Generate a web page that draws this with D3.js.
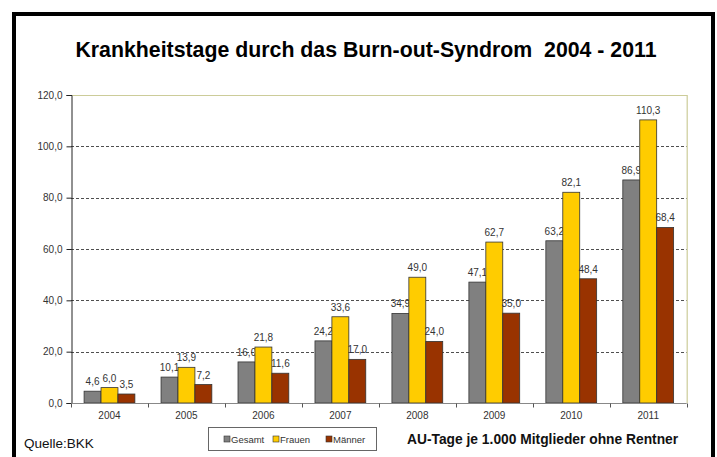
<!DOCTYPE html>
<html>
<head>
<meta charset="utf-8">
<script src="https://cdn.jsdelivr.net/npm/d3@7"></script>
<style>
  body { margin: 0; background: #fff; }
  svg { display: block; font-family: Arial, "Liberation Sans", sans-serif; }
</style>
</head>
<body>
<div id="chartDiv"></div>
<script>
var years = ["2004", "2005", "2006", "2007", "2008", "2009", "2010", "2011"]
var gesamt = [4.6, 10.1, 16.0, 24.2, 34.9, 47.1, 63.2, 86.9]
var frauen = [6.0, 13.9, 21.8, 33.6, 49.0, 62.7, 82.1, 110.3]
var maenner = [3.5, 7.2, 11.6, 17.0, 24.0, 35.0, 48.4, 68.4]
var seriesNames = ["Gesamt", "Frauen", "Männer"]
var yTicks = [0, 20, 40, 60, 80, 100, 120]

var seriesColors = ["#808080", "#ffcc00", "#993300"]

var width = 717, height = 457
var margin = {top: 95, right: 30, bottom: 54, left: 71}

var svg = d3.select("#chartDiv").append("svg")
    .attr("width", width)
    .attr("height", height)

// outer frame (bottom edge runs off the picture)
svg.append("rect")
    .attr("x", 14).attr("y", 14)
    .attr("width", 699).attr("height", 460)
    .attr("fill", "none")
    .attr("stroke", "#000")
    .attr("stroke-width", 4)

svg.append("text")
    .attr("x", 366).attr("y", 57)
    .attr("text-anchor", "middle")
    .style("font-size", "21.3px")
    .style("font-weight", "bold")
    .style("white-space", "pre")
    .text("Krankheitstage durch das Burn-out-Syndrom  2004 - 2011")

var x0 = d3.scaleBand()
    .domain(years)
    .range([margin.left, width - margin.right - 0.3])
    .paddingInner(0.34)
    .paddingOuter(0.17)

var x1 = d3.scaleBand()
    .domain(d3.range(seriesNames.length))
    .range([0, x0.bandwidth()])

var y = d3.scaleLinear()
    .domain([0, 120])
    .range([height - margin.bottom, margin.top])

var plotLeft = margin.left, plotRight = width - margin.right - 0.3

// gridlines
svg.append("g").selectAll("line")
    .data(yTicks.filter(function(d) { return d > 0 && d < 120 }))
    .enter().append("line")
    .attr("x1", plotLeft).attr("x2", plotRight)
    .attr("y1", function(d) { return Math.round(y(d)) + 0.5 })
    .attr("y2", function(d) { return Math.round(y(d)) + 0.5 })
    .attr("stroke", "#222")
    .attr("stroke-width", 0.8)
    .attr("stroke-dasharray", "3,2")

// plot area top/right border
svg.append("path")
    .attr("d", "M" + plotLeft + "," + (Math.round(y(120)) + 0.5) + "H" + (plotRight + 0.5) + "V" + y(0))
    .attr("fill", "none")
    .attr("stroke", "#cccc99")
    .attr("stroke-width", 1.2)

var allSeries = [gesamt, frauen, maenner]

allSeries.forEach(function(values, s) {
  var g = svg.append("g")
  g.selectAll("rect")
    .data(values)
    .enter().append("rect")
    .attr("x", function(d, i) { return x0(years[i]) + x1(s) })
    .attr("y", function(d) { return y(d) })
    .attr("width", x1.bandwidth())
    .attr("height", function(d) { return y(0) - y(d) })
    .attr("fill", seriesColors[s])
    .attr("stroke", "#333")
    .attr("stroke-width", 0.8)
  g.selectAll("text")
    .data(values)
    .enter().append("text")
    .attr("x", function(d, i) { return x0(years[i]) + x1(s) + x1.bandwidth() / 2 })
    .attr("y", function(d) { return y(d) - 6 })
    .attr("text-anchor", "middle")
    .style("font-size", "10px")
    .style("fill", "#333")
    .text(function(d) { return d3.format(".1f")(d).replace(".", ",") })
})

// y axis
var yAxis = svg.append("g")
    .attr("transform", "translate(" + (plotLeft + 0.5) + ",0)")
    .call(d3.axisLeft(y).tickValues(yTicks).tickSize(5).tickPadding(4)
      .tickFormat(function(d) { return d3.format(".1f")(d).replace(".", ",") }))
yAxis.select(".domain").attr("stroke", "#222")
yAxis.selectAll(".tick line").attr("stroke", "#222")
yAxis.selectAll("text").style("font-size", "10px").style("fill", "#333").style("font-family", "Arial, 'Liberation Sans', sans-serif")

// x axis with ticks between categories
var xg = svg.append("g")
    .attr("transform", "translate(0," + (y(0) + 0.5) + ")")
xg.append("line")
    .attr("x1", plotLeft).attr("x2", plotRight)
    .attr("stroke", "#888").attr("stroke-width", 1.2)
xg.selectAll(".sep")
    .data(d3.range(years.length + 1))
    .enter().append("line")
    .attr("x1", function(i) { return Math.round(plotLeft + i * (plotRight - plotLeft) / years.length) + 0.5 })
    .attr("x2", function(i) { return Math.round(plotLeft + i * (plotRight - plotLeft) / years.length) + 0.5 })
    .attr("y1", 0).attr("y2", 4)
    .attr("stroke", "#555")
xg.selectAll(".lab")
    .data(years)
    .enter().append("text")
    .attr("x", function(d) { return x0(d) + x0.bandwidth() / 2 })
    .attr("y", 15)
    .attr("text-anchor", "middle")
    .style("font-size", "10px")
    .style("fill", "#333")
    .text(function(d) { return d })

// footer
svg.append("text")
    .attr("x", 24).attr("y", 448)
    .style("font-size", "13.5px")
    .style("fill", "#111")
    .text("Quelle:BKK")

svg.append("rect")
    .attr("x", 208.5).attr("y", 427.5)
    .attr("width", 168).attr("height", 23)
    .attr("fill", "#fff")
    .attr("stroke", "#666")

var legendX = [224, 273, 326]
var legend = svg.selectAll(".legend")
    .data(seriesNames)
    .enter().append("g")
    .attr("transform", function(d, i) { return "translate(" + legendX[i] + ",440)" })
legend.append("rect")
    .attr("x", 0).attr("y", -4)
    .attr("width", 6).attr("height", 6)
    .attr("fill", function(d, i) { return seriesColors[i] })
    .attr("stroke", "#333").attr("stroke-width", 0.6)
legend.append("text")
    .attr("x", 7).attr("y", 3)
    .style("font-size", "9.5px")
    .style("fill", "#333")
    .text(function(d) { return d })

svg.append("text")
    .attr("x", 407).attr("y", 444)
    .style("font-size", "13.8px")
    .style("font-weight", "bold")
    .style("fill", "#111")
    .text("AU-Tage je 1.000 Mitglieder ohne Rentner")
</script>
</body>
</html>
